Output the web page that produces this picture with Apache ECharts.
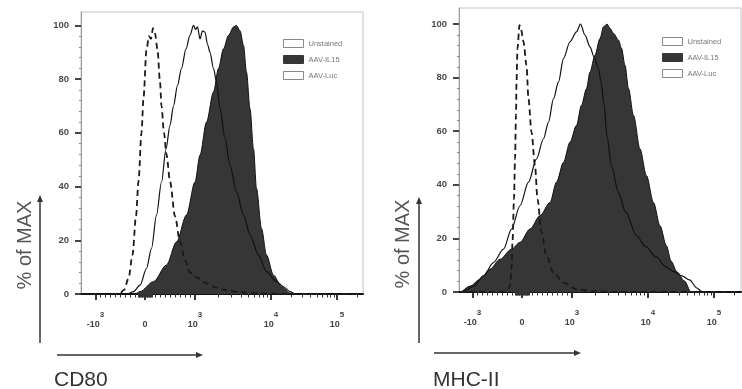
<!DOCTYPE html>
<html><head><meta charset="utf-8">
<script src="https://cdn.jsdelivr.net/npm/echarts@6/dist/echarts.min.js"></script>
<style>html,body{margin:0;padding:0;background:#fff}#c{width:742px;height:389px}</style>
</head><body><div id="c"></div>
<script>
// x values are in biexponential display units: -0.99 = -10^3, 0 = 0, 1 = 10^3, 2.52 = 10^4, 3.84 = 10^5
const xTickValues = [-0.99, 0, 1, 2.52, 3.84];
const xTickBase = ['-10', '0', '10', '10', '10'];
const xTickExp = ['3', '', '3', '4', '5'];
const yTickValues = [0, 20, 40, 60, 80, 100];
const seriesNames = ['Unstained', 'AAV-IL15', 'AAV-Luc'];

// CD80 panel
const cd80UnstainedX = [-1.28, -0.6, -0.5, -0.42, -0.33, -0.25, -0.18, -0.13, -0.07, -0.03, 0.03, 0.08, 0.12, 0.16, 0.2, 0.25, 0.3, 0.33, 0.38, 0.43, 0.5, 0.6, 0.7, 0.8, 0.9, 1.05, 1.23, 1.4, 1.6, 1.9, 2.3, 2.8, 4.36];
const cd80UnstainedY = [0, 0, 0.3, 1.5, 5.8, 14.5, 29, 42, 60, 73, 91, 96, 95, 99, 97, 91, 79, 70, 60, 52, 42, 29, 19.5, 12.5, 8, 6, 4, 2.5, 1.5, 0.6, 0.2, 0, 0];
const cd80LucX = [-1.28, -0.35, -0.23, -0.1, 0.03, 0.13, 0.23, 0.33, 0.42, 0.5, 0.57, 0.65, 0.73, 0.82, 0.9, 0.97, 1.01, 1.05, 1.1, 1.15, 1.2, 1.25, 1.3, 1.37, 1.43, 1.5, 1.6, 1.7, 1.83, 1.97, 2.1, 2.27, 2.43, 2.63, 2.77, 2.9, 3.0, 4.36];
const cd80LucY = [0, 0, 0.9, 3.3, 9.5, 17, 29.4, 41.7, 54, 62.8, 70, 77.7, 84, 91.3, 96.3, 100, 98.5, 99.5, 95, 98, 97.5, 93, 90, 84, 79, 69, 58, 48, 38, 29.4, 22, 14.5, 8.3, 4.6, 2.7, 0.9, 0, 0];
const cd80Il15X = [-1.28, -0.2, -0.1, 0.17, 0.43, 0.63, 0.83, 1.0, 1.1, 1.23, 1.37, 1.47, 1.57, 1.67, 1.77, 1.83, 1.9, 1.97, 2.03, 2.1, 2.17, 2.23, 2.33, 2.43, 2.57, 2.73, 2.9, 3.0, 4.36];
const cd80Il15Y = [0, 0, 0.9, 4.6, 10.8, 19.4, 29.4, 41.7, 51.7, 64, 75.2, 84, 91.3, 96.3, 99.4, 100, 98, 92.6, 82.6, 69, 54, 39.3, 24.4, 14.5, 7, 2.7, 0.3, 0, 0];

// MHC-II panel
const mhcUnstainedX = [-1.26, -0.4, -0.31, -0.24, -0.21, -0.19, -0.16, -0.14, -0.12, -0.11, -0.09, -0.05, -0.02, 0.03, 0.09, 0.13, 0.19, 0.26, 0.31, 0.39, 0.49, 0.63, 0.83, 1.09, 1.43, 1.9, 4.38];
const mhcUnstainedY = [0, 0, 0.5, 2.2, 8.5, 18.5, 34.7, 49.7, 66, 78.4, 91, 99.6, 98, 93.4, 84.6, 72, 59.7, 47.2, 34.7, 22.2, 13.5, 7.2, 3.5, 1, 0.3, 0, 0];
const mhcLucX = [-1.26, -1.17, -0.97, -0.77, -0.57, -0.37, -0.21, -0.04, 0.13, 0.29, 0.43, 0.53, 0.63, 0.73, 0.83, 0.96, 1.09, 1.17, 1.26, 1.36, 1.44, 1.53, 1.58, 1.64, 1.7, 1.79, 1.93, 2.07, 2.29, 2.47, 2.69, 2.87, 3.05, 3.2, 3.35, 3.5, 3.6, 4.38];
const mhcLucY = [0, 0, 2.2, 6, 11, 16, 23.5, 32.2, 41, 49.7, 57.2, 63.4, 72.2, 78.4, 87.2, 93.4, 97.1, 100, 95.9, 91.5, 87.8, 83.4, 78.4, 70, 58, 47, 37, 30, 21, 17, 13, 9.5, 7.5, 6, 4.5, 1.5, 0, 0];
const mhcIl15X = [-1.26, -1.24, -1.04, -0.84, -0.64, -0.44, -0.21, -0.04, 0.16, 0.36, 0.56, 0.69, 0.83, 0.96, 1.09, 1.19, 1.29, 1.36, 1.46, 1.56, 1.63, 1.7, 1.76, 1.83, 1.93, 1.99, 2.06, 2.13, 2.23, 2.36, 2.49, 2.63, 2.76, 2.89, 2.98, 3.1, 3.25, 3.38, 4.38];
const mhcIl15Y = [0, 0, 2.2, 4.7, 8.5, 12.2, 16, 18.5, 23.5, 28.5, 33.4, 41, 48.4, 55.9, 62.2, 69.7, 75.9, 82.1, 88.4, 94.6, 99, 100, 98.4, 96.5, 94, 91, 84.6, 75.9, 65.9, 53.4, 43.4, 33.4, 24.7, 17.2, 11.6, 7.5, 4.1, 0, 0];

const pairs = (xs, ys) => xs.map((x, i) => [x, ys[i]]);

// minor tick positions of the biexponential axis
function minorTicks(max) {
  const t = [];
  for (let k = 2; k <= 9; k++) { t.push(0.1 * k); t.push(-0.099 * k); }
  for (let k = 1; k <= 11; k++) { t.push(0.0125 * k); t.push(-0.0125 * k); }
  for (let k = 2; k <= 9; k++) { t.push(1 + 1.52 * Math.log10(k)); t.push(2.52 + 1.32 * Math.log10(k)); t.push(3.84 + 1.32 * Math.log10(k)); }
  return t.filter(v => v < max - 0.02);
}
const yMinorTicks = [];
for (let v = 4; v < 100; v += 4) if (v % 20) yMinorTicks.push(v);

function fmtX(v) {
  const i = xTickValues.findIndex(t => Math.abs(t - v) < 1e-6);
  if (i < 0) return '';
  return xTickExp[i] ? '{b|' + xTickBase[i] + '}{s|' + xTickExp[i] + '}' : '{b|' + xTickBase[i] + '}';
}

const FONT = '"Liberation Sans", Arial, sans-serif';
const grids = [
  { left: 81, top: 12, width: 282, height: 282, show: true, borderColor: '#c4c4c4', borderWidth: 1 },
  { left: 459, top: 8, width: 282, height: 284, show: true, borderColor: '#c4c4c4', borderWidth: 1 }
];
const xRanges = [[-1.28, 4.36], [-1.26, 4.38]];
const yMaxes = [105, 106];

const xAxes = [], yAxes = [];
[0, 1].forEach(g => {
  xAxes.push({
    type: 'value', gridIndex: g, position: 'bottom', min: xRanges[g][0], max: xRanges[g][1],
    axisLine: { show: true, onZero: false, lineStyle: { color: '#111', width: 2 } },
    axisTick: { show: true, customValues: xTickValues, length: 6, lineStyle: { color: '#222', width: 1.8 } },
    axisLabel: {
      show: true, customValues: xTickValues, margin: 17, formatter: fmtX,
      rich: {
        b: { fontFamily: FONT, fontSize: 9, fontWeight: 'bold', color: '#444', lineHeight: 18, verticalAlign: 'bottom' },
        s: { fontFamily: FONT, fontSize: 8, fontWeight: 'bold', color: '#444', lineHeight: 9, verticalAlign: 'top' }
      }
    },
    splitLine: { show: false }
  });
  xAxes.push({
    type: 'value', gridIndex: g, position: 'bottom', min: xRanges[g][0], max: xRanges[g][1],
    axisLine: { show: false, onZero: false },
    axisTick: { show: true, customValues: minorTicks(xRanges[g][1]), length: 3.5, lineStyle: { color: '#333', width: 1 } },
    axisLabel: { show: false }, splitLine: { show: false }
  });
  yAxes.push({
    type: 'value', gridIndex: g, position: 'left', min: 0, max: yMaxes[g],
    axisLine: { show: true, onZero: false, lineStyle: { color: '#9a9a9a', width: 1 } },
    axisTick: { show: true, customValues: yTickValues, length: 6, lineStyle: { color: '#333', width: 1.8 } },
    axisLabel: { show: true, customValues: yTickValues, margin: 12, fontFamily: FONT, fontSize: 9.5, fontWeight: 'bold', color: '#4a4a4a' },
    splitLine: { show: false }
  });
  yAxes.push({
    type: 'value', gridIndex: g, position: 'left', min: 0, max: yMaxes[g],
    axisLine: { show: false, onZero: false },
    axisTick: { show: true, customValues: yMinorTicks, length: 2, lineStyle: { color: '#888', width: 1 } },
    axisLabel: { show: false }, splitLine: { show: false }
  });
});

const panels = [
  { un: pairs(cd80UnstainedX, cd80UnstainedY), il: pairs(cd80Il15X, cd80Il15Y), luc: pairs(cd80LucX, cd80LucY) },
  { un: pairs(mhcUnstainedX, mhcUnstainedY), il: pairs(mhcIl15X, mhcIl15Y), luc: pairs(mhcLucX, mhcLucY) }
];
const series = [];
panels.forEach((p, g) => {
  const common = { type: 'line', xAxisIndex: g * 2, yAxisIndex: g * 2, showSymbol: false, symbol: 'none', smooth: 0.3, smoothMonotone: 'x', animation: false };
  series.push(Object.assign({}, common, { name: seriesNames[1], data: p.il, z: 2,
    lineStyle: { color: '#111', width: 1 }, itemStyle: { color: '#363636' }, areaStyle: { color: '#363636', opacity: 1 } }));
  series.push(Object.assign({}, common, { name: seriesNames[2], data: p.luc, z: 3,
    lineStyle: { color: '#111', width: 1.2 }, itemStyle: { color: '#fff' } }));
  series.push(Object.assign({}, common, { name: seriesNames[0], data: p.un, z: 4,
    lineStyle: { color: '#1a1a1a', width: 1.8, type: [6, 4] }, itemStyle: { color: '#fff' } }));
});

function legendFor(left, top) {
  return {
    left: left, top: top, orient: 'vertical', itemWidth: 20, itemHeight: 8, itemGap: 7, padding: 0,
    icon: 'rect', selectedMode: false,
    textStyle: { fontFamily: FONT, fontSize: 7.5, color: '#777', lineHeight: 8 },
    data: [
      { name: seriesNames[0], icon: 'rect', itemStyle: { color: '#fff', borderColor: '#888', borderWidth: 1 } },
      { name: seriesNames[1], icon: 'rect', itemStyle: { color: '#363636', borderColor: '#363636', borderWidth: 1 } },
      { name: seriesNames[2], icon: 'rect', itemStyle: { color: '#fff', borderColor: '#888', borderWidth: 1 } }
    ]
  };
}

function arrowV(x, yTop, yBottom) {
  return [
    { type: 'line', shape: { x1: x, y1: yBottom, x2: x, y2: yTop + 5 }, style: { stroke: '#333', lineWidth: 1.5 } },
    { type: 'polygon', shape: { points: [[x, yTop], [x - 3, yTop + 7], [x + 3, yTop + 7]] }, style: { fill: '#333' } }
  ];
}
function arrowH(y, xLeft, xRight) {
  return [
    { type: 'line', shape: { x1: xLeft, y1: y, x2: xRight - 5, y2: y }, style: { stroke: '#333', lineWidth: 1.5 } },
    { type: 'polygon', shape: { points: [[xRight, y], [xRight - 7, y - 3], [xRight - 7, y + 3]] }, style: { fill: '#333' } }
  ];
}
const graphic = [].concat(
  arrowV(40, 195, 343), arrowH(355, 57, 203),
  arrowV(419, 197, 343), arrowH(353, 434, 581),
  [
    { type: 'text', x: 25, y: 245, rotation: Math.PI / 2, style: { text: '% of MAX', font: '20px ' + FONT, fill: '#555', align: 'center', verticalAlign: 'middle' } },
    { type: 'text', x: 403, y: 244, rotation: Math.PI / 2, style: { text: '% of MAX', font: '20px ' + FONT, fill: '#555', align: 'center', verticalAlign: 'middle' } },
    { type: 'text', x: 54, y: 380, style: { text: 'CD80', font: '21px ' + FONT, fill: '#333', verticalAlign: 'middle' } },
    { type: 'text', x: 433, y: 380, style: { text: 'MHC-II', font: '21px ' + FONT, fill: '#333', verticalAlign: 'middle' } }
  ]
);

const chart = echarts.init(document.getElementById('c'), null, { renderer: 'canvas' });
chart.setOption({
  backgroundColor: '#fff',
  animation: false,
  grid: grids,
  xAxis: xAxes,
  yAxis: yAxes,
  legend: [legendFor(283, 39), legendFor(662, 37)],
  series: series,
  graphic: graphic
});
</script>
</body></html>
